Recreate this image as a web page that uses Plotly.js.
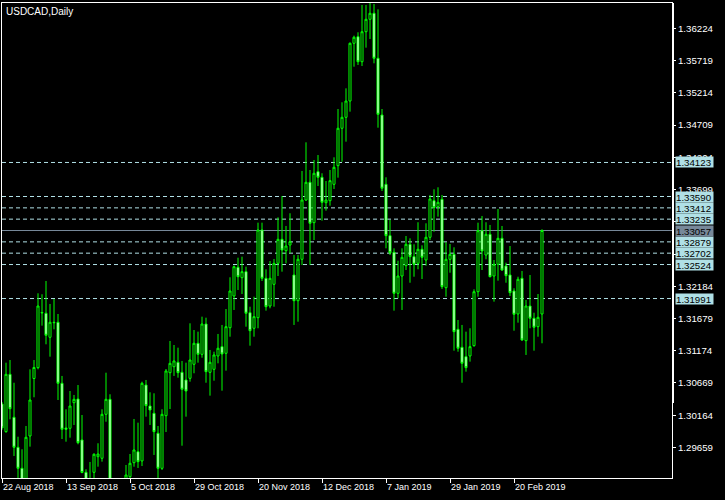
<!DOCTYPE html>
<html>
<head>
<meta charset="utf-8">
<script src="https://cdn.plot.ly/plotly-3.0.1.min.js"></script>
<style>
  html, body { margin: 0; padding: 0; background: #000; }
  #chart { width: 725px; height: 500px; }
</style>
</head>
<body>
<div id="chart"></div>
<script>
// ---- data (USDCAD daily, 22 Aug 2018 .. 1 Mar 2019) ----
const symbolTitle = 'USDCAD,Daily';
const holidays = ['2018-12-25', '2019-01-01'];

const open = [
1.30339,1.29905,1.30804,1.30130,1.29660,1.29331,1.2895,1.29837,1.30738,1.30908,
1.31765,1.31760,1.31384,1.31619,1.31619,1.30663,1.29963,1.29958,1.30359,1.30417,
1.29775,1.29268,1.2905,1.29268,1.29513,1.29488,1.30177,1.30412,1.2911,1.2808,
1.2850,1.2815,1.29200,1.29419,1.29591,1.29446,1.30636,1.30307,1.30193,1.29880,
1.29331,1.30155,1.30829,1.30923,1.30992,1.30835,1.30715,1.30741,1.30961,1.31290,
1.31117,1.31592,1.30835,1.30882,1.31091,1.31237,1.31133,1.31534,1.32031,1.32481,
1.32318,1.32412,1.31769,1.31525,1.31691,1.33065,1.32308,1.31874,1.32214,1.32543,
1.32919,1.32741,1.32830,1.32360,1.31957,1.32606,1.33535,1.33813,1.33180,1.33979,
1.33891,1.33493,1.33524,1.33781,1.34073,1.34659,1.34831,1.35086,1.35991,1.36094,
1.35702,1.36172,1.36367,1.36461,1.35756,1.34867,1.33781,1.32976,1.32716,1.32073,
1.32344,1.32506,1.32841,1.32647,1.32543,1.32763,1.32595,1.32951,1.33524,1.33430,
1.33546,1.32161,1.32606,1.32684,1.31509,1.31227,1.31080,1.31091,1.31252,1.32098,
1.33054,1.32673,1.32998,1.32344,1.32528,1.32935,1.32501,1.32360,1.32109,1.31749,
1.32308,1.31331,1.31874,1.31682,1.31550,1.31749
];
const high = [
1.30370,1.30986,1.31028,1.30672,1.29826,1.29629,1.29994,1.30882,1.31028,1.32073,
1.32058,1.32266,1.31906,1.31984,1.31749,1.30778,1.30256,1.30542,1.30480,1.30636,
1.30166,1.29316,1.29430,1.29566,1.29723,1.30256,1.30829,1.30491,1.2916,1.2862,
1.2872,1.29383,1.29555,1.30104,1.30046,1.30688,1.30715,1.30522,1.30506,1.29994,
1.30256,1.30887,1.31326,1.31263,1.31221,1.31013,1.30986,1.31603,1.31498,1.31472,
1.31707,1.31691,1.31185,1.31158,1.31436,1.31577,1.31827,1.32324,1.32509,1.32631,
1.32647,1.32490,1.31863,1.32020,1.33180,1.33180,1.32449,1.32579,1.32611,1.33264,
1.33598,1.33128,1.33327,1.32673,1.32673,1.33990,1.34439,1.34005,1.34162,1.34240,
1.33954,1.33833,1.34005,1.34204,1.34961,1.35066,1.35285,1.36003,1.36110,1.36163,
1.36591,1.36591,1.36627,1.36606,1.36523,1.34961,1.33891,1.33222,1.32778,1.32584,
1.32778,1.32971,1.32935,1.32841,1.33186,1.32825,1.33170,1.33614,1.33703,1.33734,
1.33614,1.32872,1.32846,1.32794,1.31655,1.31577,1.31472,1.31525,1.32136,1.33180,
1.33285,1.33186,1.33144,1.32595,1.33394,1.33128,1.32553,1.32814,1.32152,1.32333,
1.32423,1.31968,1.32360,1.31769,1.32062,1.33076
];
const low = [
1.29931,1.29889,1.30099,1.29524,1.2905,1.2884,1.2889,1.29670,1.30444,1.30882,
1.31566,1.31274,1.31080,1.31509,1.30401,1.29790,1.29748,1.29811,1.30010,1.29707,
1.29253,1.2895,1.2880,1.2905,1.29356,1.29435,1.30061,1.2903,1.2782,1.2795,
1.2783,1.2810,1.2908,1.29356,1.29336,1.29367,1.30140,1.30010,1.29540,1.2912,
1.29305,1.29900,1.30260,1.30778,1.30751,1.29685,1.30140,1.30688,1.30820,1.30986,
1.31064,1.30672,1.30469,1.30704,1.30976,1.30547,1.30861,1.31393,1.31812,1.32125,
1.32062,1.31550,1.31252,1.31393,1.31525,1.32266,1.31801,1.31838,1.31863,1.32344,
1.32412,1.32543,1.32700,1.31577,1.31628,1.32517,1.33520,1.32517,1.32908,1.33755,
1.33211,1.33368,1.33446,1.33708,1.33885,1.34135,1.34449,1.34919,1.35624,1.35651,
1.35635,1.35922,1.36058,1.35677,1.34668,1.33676,1.32778,1.32673,1.31801,1.31995,
1.31812,1.32438,1.32239,1.32333,1.32449,1.32297,1.32506,1.32908,1.33039,1.33274,
1.32141,1.32020,1.32396,1.31174,1.31158,1.30672,1.30845,1.31002,1.31237,1.32020,
1.32438,1.32606,1.32324,1.31942,1.32271,1.32423,1.32239,1.32031,1.31487,1.31613,
1.31326,1.31107,1.31525,1.31174,1.31393,1.31290
];
const close = [
1.29963,1.30804,1.30265,1.29660,1.29331,1.2895,1.29817,1.30401,1.30911,1.31874,
1.31772,1.31415,1.31619,1.31613,1.30663,1.29942,1.29942,1.30307,1.30412,1.29732,
1.29265,1.2905,1.2912,1.29551,1.29555,1.30177,1.30412,1.2911,1.2808,1.2850,
1.2815,1.29226,1.29410,1.29618,1.29435,1.30663,1.30312,1.30245,1.29905,1.29331,
1.30177,1.30856,1.30976,1.31013,1.30829,1.30569,1.30542,1.31028,1.31290,1.31117,
1.31592,1.30845,1.30992,1.31107,1.31212,1.31122,1.31550,1.32109,1.32490,1.32333,
1.32412,1.31760,1.31487,1.31707,1.33065,1.32308,1.31863,1.32308,1.32543,1.32919,
1.32752,1.32814,1.32882,1.31957,1.32606,1.33535,1.33813,1.33170,1.33954,1.33891,
1.33499,1.33535,1.33838,1.34048,1.34659,1.34831,1.35086,1.35991,1.36085,1.35702,
1.36172,1.36367,1.36461,1.35756,1.34878,1.33719,1.32976,1.32709,1.32073,1.32344,
1.32637,1.32841,1.32647,1.32528,1.32763,1.32637,1.32951,1.33551,1.33415,1.33499,
1.32177,1.32606,1.32684,1.31472,1.31212,1.30976,1.30908,1.31237,1.32098,1.33054,
1.32736,1.32998,1.32333,1.32528,1.32935,1.32438,1.32349,1.32083,1.31744,1.32293,
1.31342,1.31874,1.31682,1.31541,1.31697,1.33057
];

const priceTicks = [1.36224,1.35719,1.35214,1.34709,1.34204,1.33699,1.33194,1.32689,1.32184,1.31679,1.31174,1.30669,1.30164,1.29659];
// labels fully hidden behind the level boxes in the reference
const hiddenTickLabels = [1.33194, 1.32689];
const dateTickVals = ['2018-08-22','2018-09-13','2018-10-05','2018-10-29','2018-11-20','2018-12-12','2019-01-07','2019-01-29','2019-02-20'];
const dateTickText = ['22 Aug 2018','13 Sep 2018','5 Oct 2018','29 Oct 2018','20 Nov 2018','12 Dec 2018','7 Jan 2019','29 Jan 2019','20 Feb 2019'];
const dashedLevels = [1.34123,1.33590,1.33412,1.33235,1.32879,1.32702,1.32524,1.31991];
const bidLevel = 1.33057;

// trading-day categories (weekdays, minus holidays)
const dates = [];
{
  const d = new Date(Date.UTC(2018, 7, 22));
  while (dates.length < open.length) {
    const s = d.toISOString().slice(0, 10);
    const wd = d.getUTCDay();
    if (wd !== 0 && wd !== 6 && !holidays.includes(s)) dates.push(s);
    d.setUTCDate(d.getUTCDate() + 1);
  }
}

const GREEN = '#00ff00';
const LEVEL = '#b0e0e6';
const BID = '#778899';
const FONT = 'Liberation Sans, Arial, sans-serif';

const trace = {
  type: 'candlestick',
  x: dates, open: open, high: high, low: low, close: close,
  increasing: { line: { color: GREEN, width: 1 }, fillcolor: '#000000' },
  decreasing: { line: { color: GREEN, width: 1 }, fillcolor: '#ffffff' },
  whiskerwidth: 0,
  hoverinfo: 'skip',
  showlegend: false
};

const shapes = [];
dashedLevels.forEach(v => shapes.push({
  type: 'line', xref: 'paper', x0: 0, x1: 1, yref: 'y', y0: v, y1: v,
  line: { color: LEVEL, width: 1, dash: '4px,3px' }, layer: 'below'
}));
shapes.push({
  type: 'line', xref: 'paper', x0: 0, x1: 1, yref: 'y', y0: bidLevel, y1: bidLevel,
  line: { color: BID, width: 1 }, layer: 'below'
});
// thick segment of right frame
shapes.push({
  type: 'line', xref: 'paper', xsizemode: 'pixel', xanchor: 1, x0: 1, x1: 1,
  yref: 'paper', y0: 0.158, y1: 1, line: { color: '#ffffff', width: 2 }
});

const fmt = v => v.toFixed(5);
const annotations = [{
  xref: 'paper', yref: 'paper', x: 0, y: 1, xanchor: 'left', yanchor: 'top',
  xshift: 2, yshift: -1, showarrow: false, text: symbolTitle,
  font: { family: FONT, size: 10, color: '#ffffff' }
}];
dashedLevels.concat([bidLevel]).forEach(v => annotations.push({
  xref: 'paper', yref: 'y', x: 1, y: v, xanchor: 'left', yanchor: 'middle',
  xshift: 3, showarrow: false, text: fmt(v), align: 'left',
  width: 37, height: 10, borderpad: 0,
  bgcolor: v === bidLevel ? BID : LEVEL,
  font: { family: FONT, size: 9.7, color: '#000000' }
}));

const layout = {
  width: 725, height: 500,
  margin: { l: 2, r: 53, t: 3, b: 22, pad: 0 },
  paper_bgcolor: '#000000', plot_bgcolor: '#000000',
  showlegend: false,
  boxgap: 0.27,
  xaxis: {
    type: 'category', range: [0, 167.5], fixedrange: true,
    rangeslider: { visible: false },
    showgrid: false, zeroline: false,
    showline: true, mirror: true, linecolor: '#ffffff', linewidth: 1,
    ticks: 'outside', ticklen: 4, tickcolor: '#ffffff', tickwidth: 1,
    tickmode: 'array', tickvals: dateTickVals, ticktext: dateTickText,
    ticklabelposition: 'outside right',
    tickfont: { family: FONT, size: 9, color: '#ffffff' }
  },
  yaxis: {
    side: 'right', range: [1.29179, 1.36622], fixedrange: true,
    showgrid: false, zeroline: false,
    showline: true, mirror: true, linecolor: '#ffffff', linewidth: 1,
    ticks: 'outside', ticklen: 3, tickcolor: '#ffffff', tickwidth: 1,
    tickmode: 'array', tickvals: priceTicks,
    ticktext: priceTicks.map(v => hiddenTickLabels.includes(v) ? '' : fmt(v)),
    tickfont: { family: FONT, size: 9.7, color: '#ffffff' }
  },
  shapes: shapes,
  annotations: annotations
};

Plotly.newPlot('chart', [trace], layout, { staticPlot: true, displayModeBar: false });
</script>
</body>
</html>
